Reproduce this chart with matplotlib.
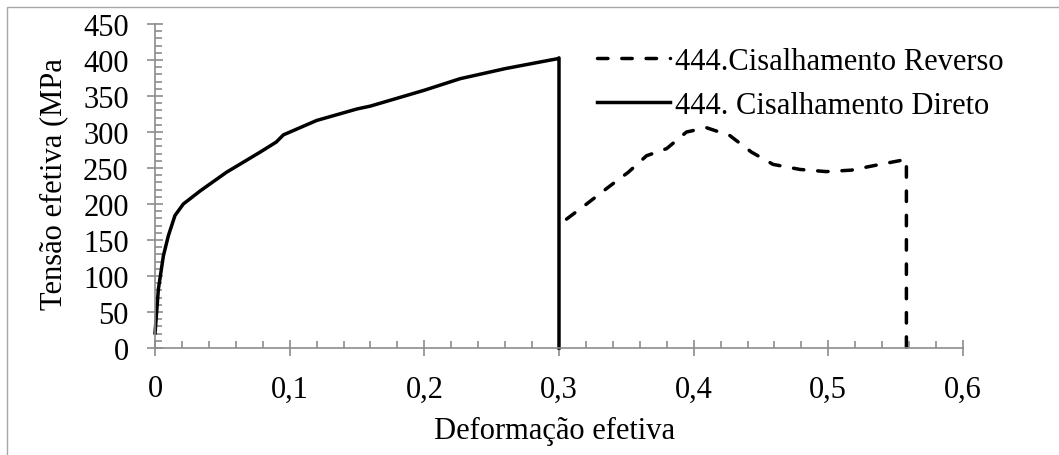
import matplotlib.pyplot as plt
from matplotlib.patches import Rectangle
from matplotlib.ticker import MultipleLocator, FuncFormatter

# 444. Cisalhamento Direto (solid)
x_direto = [0.0, 0.0025, 0.0062, 0.0099, 0.0148, 0.021, 0.0334, 0.053, 0.078, 0.09,
            0.0953, 0.12, 0.15, 0.16, 0.2, 0.2265, 0.26, 0.2995, 0.3, 0.3]
y_direto = [21, 82, 128, 156, 184, 200, 218, 244, 272, 286,
            296, 316, 332, 336, 358, 374, 388, 402, 403, 0]

# 444.Cisalhamento Reverso (dashed)
x_reverso = [0.3056, 0.3205, 0.3378, 0.3514, 0.365, 0.38, 0.3947, 0.4095, 0.4269, 0.443,
             0.459, 0.479, 0.4985, 0.517, 0.5357, 0.558, 0.558]
y_reverso = [179, 200, 225, 244, 267, 277, 300, 306, 295, 272,
             255, 248, 245, 247, 254, 262, 0]

plt.rcParams['font.family'] = ['Liberation Serif', 'DejaVu Serif']
plt.rcParams['font.size'] = 22
gray = '#8c8c8c'

fig = plt.figure(figsize=(10.59, 4.56), dpi=100)
ax = fig.add_axes([0.1464, 0.2346, 0.7629, 0.7106])

# outer chart frame (partly off the image like in the original)
fig.patches.append(Rectangle((7 / 1059, -0.1), 1.2, 1 - 8 / 456 + 0.1, transform=fig.transFigure,
                             fill=False, edgecolor='#a6a6a6', linewidth=1))

ax.plot(x_reverso, y_reverso, color='black', linewidth=2.5, linestyle=(0, (3, 4)),
        dash_capstyle='round', label='444.Cisalhamento Reverso', clip_on=False)
ax.plot(x_direto, y_direto, color='black', linewidth=2.5, label='444. Cisalhamento Direto',
        clip_on=False)

ax.set_xlim(0, 0.6)
ax.set_ylim(0, 450)
ax.xaxis.set_major_locator(MultipleLocator(0.1))
ax.xaxis.set_minor_locator(MultipleLocator(0.02))
ax.yaxis.set_major_locator(MultipleLocator(50))
ax.yaxis.set_minor_locator(MultipleLocator(10))
ax.xaxis.set_major_formatter(FuncFormatter(lambda v, p: '0' if abs(v) < 1e-9 else ('%.1f' % v).replace('.', ',')))

for s in ['top', 'right']:
    ax.spines[s].set_visible(False)
for s in ['left', 'bottom']:
    ax.spines[s].set_color(gray)
    ax.spines[s].set_linewidth(1.2)

ax.tick_params(which='major', direction='inout', length=12, width=1.2, color=gray, pad=13)
ax.tick_params(which='minor', direction='in', length=5, width=1.2, color=gray)

ax.set_xlabel('Deformação efetiva')
ax.xaxis.set_label_coords(0.495, -0.256, transform=ax.transAxes)
ax.xaxis.label.set_va('center')
ax.set_ylabel('Tensão efetiva (MPa')
ax.yaxis.set_label_coords(-0.125, 0.51, transform=ax.transAxes)
ax.yaxis.label.set_va('center')

ax.legend(loc='upper left', bbox_to_anchor=(0.547, 0.93), frameon=False, handlelength=2.4,
          handletextpad=0.15, labelspacing=0.5, borderaxespad=0, borderpad=0)

fig.savefig('out.png', dpi=100)
